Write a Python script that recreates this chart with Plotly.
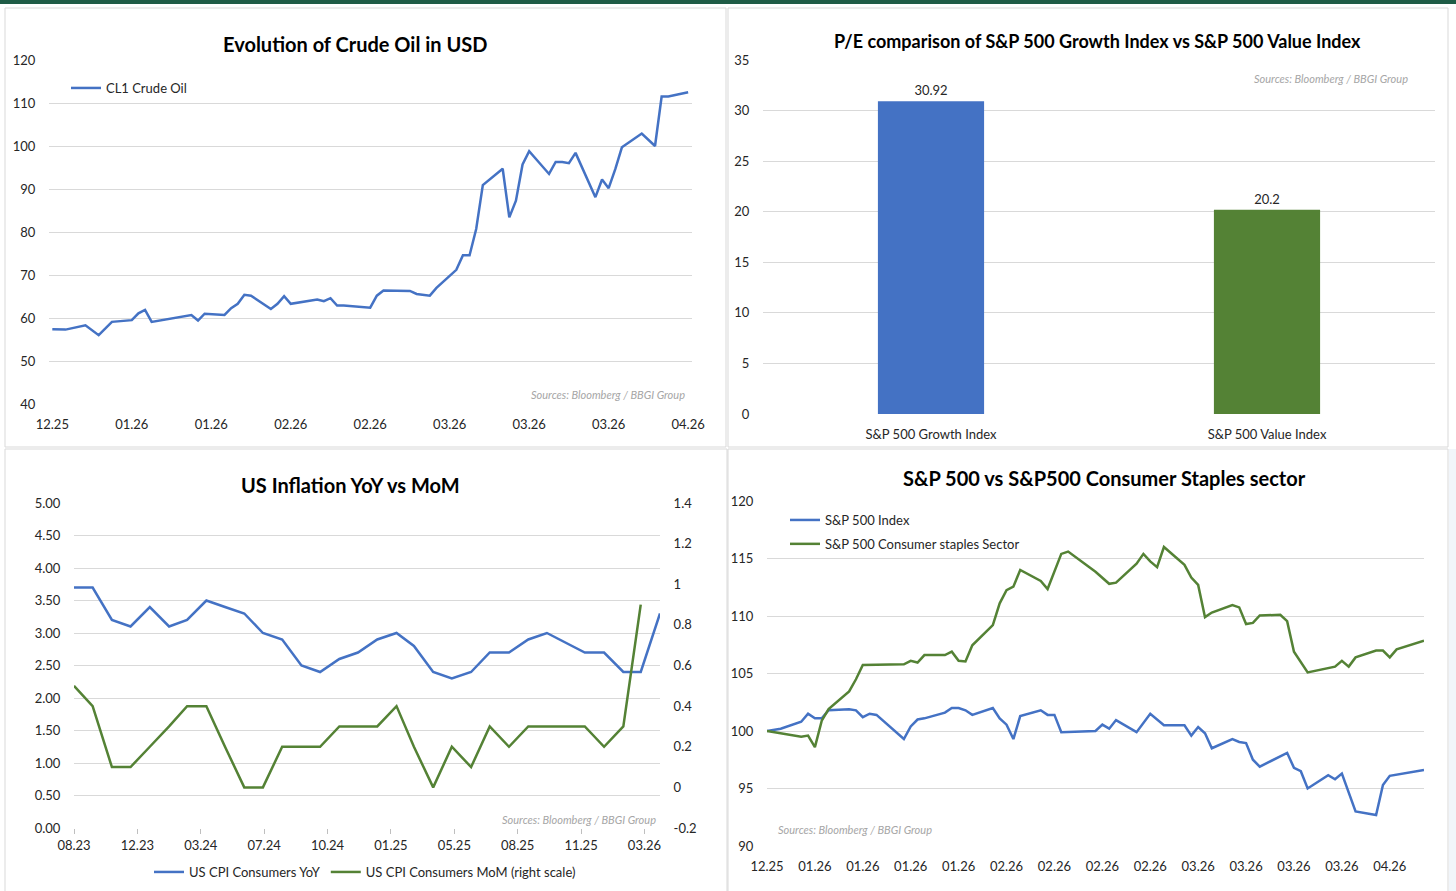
import plotly.graph_objects as go

W, H = 1456, 891

# ---------------- data ----------------
oil_dates = ["2025-12-31", "2026-01-02", "2026-01-05", "2026-01-07", "2026-01-09", "2026-01-12",
             "2026-01-13", "2026-01-14", "2026-01-15", "2026-01-21", "2026-01-22", "2026-01-23",
             "2026-01-26", "2026-01-27", "2026-01-28", "2026-01-29", "2026-01-30", "2026-02-02",
             "2026-02-03", "2026-02-04", "2026-02-05", "2026-02-09", "2026-02-10", "2026-02-11",
             "2026-02-12", "2026-02-13", "2026-02-17", "2026-02-18", "2026-02-19", "2026-02-23",
             "2026-02-24", "2026-02-26", "2026-02-27", "2026-03-02", "2026-03-03", "2026-03-04",
             "2026-03-05", "2026-03-06", "2026-03-09", "2026-03-10", "2026-03-11", "2026-03-12",
             "2026-03-13", "2026-03-16", "2026-03-17", "2026-03-18", "2026-03-19", "2026-03-20",
             "2026-03-23", "2026-03-24", "2026-03-25", "2026-03-26", "2026-03-27", "2026-03-30",
             "2026-04-01", "2026-04-02", "2026-04-03", "2026-04-06"]
oil_values = [57.4, 57.3, 58.3, 56.0, 59.1, 59.5, 61.1, 61.9, 59.1, 60.7, 59.4, 61.0,
              60.7, 62.3, 63.3, 65.4, 65.2, 62.1, 63.3, 65.1, 63.3, 64.3, 63.9, 64.6,
              62.9, 62.9, 62.4, 65.2, 66.4, 66.3, 65.6, 65.2, 67.0, 71.2, 74.6, 74.6,
              80.7, 90.9, 94.7, 83.4, 87.3, 95.7, 98.8, 93.5, 96.3, 96.3, 96.0, 98.4,
              88.1, 92.2, 90.2, 94.6, 99.7, 102.9, 100.0, 111.5, 111.5, 112.5]

pe_categories = ["S&P 500 Growth Index", "S&P 500 Value Index"]
pe_values = [30.92, 20.2]

cpi_dates = ["2023-08-31", "2023-09-30", "2023-10-31", "2023-11-30", "2023-12-31",
             "2024-01-31", "2024-02-29", "2024-03-31", "2024-04-30", "2024-05-31", "2024-06-30",
             "2024-07-31", "2024-08-31", "2024-09-30", "2024-10-31", "2024-11-30", "2024-12-31",
             "2025-01-31", "2025-02-28", "2025-03-31", "2025-04-30", "2025-05-31", "2025-06-30",
             "2025-07-31", "2025-08-31", "2025-09-30", "2025-11-30", "2025-12-31",
             "2026-01-31", "2026-02-28", "2026-03-31"]
cpi_yoy = [3.7, 3.7, 3.2, 3.1, 3.4, 3.1, 3.2, 3.5, 3.4, 3.3, 3.0, 2.9, 2.5, 2.4, 2.6, 2.7,
           2.9, 3.0, 2.8, 2.4, 2.3, 2.4, 2.7, 2.7, 2.9, 3.0, 2.7, 2.7, 2.4, 2.4, 3.3]
cpi_mom_dates = cpi_dates[:-1]
cpi_mom = [0.5, 0.4, 0.1, 0.1, 0.2, 0.3, 0.4, 0.4, 0.2, 0.0, 0.0, 0.2, 0.2, 0.2, 0.3, 0.3,
           0.3, 0.4, 0.2, 0.0, 0.2, 0.1, 0.3, 0.2, 0.3, 0.3, 0.3, 0.2, 0.3, 0.9]

spx_dates = ["2025-12-31", "2026-01-02", "2026-01-05", "2026-01-06", "2026-01-07", "2026-01-08",
             "2026-01-09", "2026-01-12", "2026-01-13", "2026-01-14", "2026-01-15", "2026-01-16",
             "2026-01-20", "2026-01-21", "2026-01-22", "2026-01-23", "2026-01-26", "2026-01-27",
             "2026-01-28", "2026-01-29", "2026-01-30", "2026-02-02", "2026-02-03", "2026-02-04",
             "2026-02-05", "2026-02-06", "2026-02-09", "2026-02-10", "2026-02-11", "2026-02-12",
             "2026-02-17", "2026-02-18", "2026-02-19", "2026-02-20", "2026-02-23", "2026-02-25",
             "2026-02-27", "2026-03-02", "2026-03-03", "2026-03-04", "2026-03-05", "2026-03-06",
             "2026-03-09", "2026-03-10", "2026-03-11", "2026-03-12", "2026-03-13", "2026-03-17",
             "2026-03-18", "2026-03-19", "2026-03-20", "2026-03-23", "2026-03-24", "2026-03-25",
             "2026-03-27", "2026-03-30", "2026-03-31", "2026-04-01", "2026-04-06"]
spx_values = [100.0, 100.2, 100.8, 101.5, 101.1, 101.1, 101.8, 101.9, 101.8, 101.2, 101.5, 101.4,
              99.3, 100.4, 101.0, 101.1, 101.6, 102.0, 102.0, 101.8, 101.4, 102.0, 101.1, 100.55,
              99.3, 101.3, 101.8, 101.4, 101.4, 99.9, 100.0, 100.55, 100.2, 100.95, 99.9, 101.5,
              100.5, 100.5, 99.6, 100.35, 99.8, 98.5, 99.3, 99.05, 98.95, 97.5, 96.9, 98.1,
              96.8, 96.5, 95.0, 96.15, 95.8, 96.3, 93.0, 92.7, 95.3, 96.1, 96.6]

stap_dates = ["2025-12-31", "2026-01-05", "2026-01-06", "2026-01-07", "2026-01-08", "2026-01-09",
              "2026-01-12", "2026-01-13", "2026-01-14", "2026-01-15", "2026-01-20", "2026-01-21",
              "2026-01-22", "2026-01-23", "2026-01-26", "2026-01-27", "2026-01-28", "2026-01-29",
              "2026-01-30", "2026-02-02", "2026-02-03", "2026-02-04", "2026-02-05", "2026-02-06",
              "2026-02-09", "2026-02-10", "2026-02-12", "2026-02-13", "2026-02-17", "2026-02-19",
              "2026-02-20", "2026-02-23", "2026-02-24", "2026-02-25", "2026-02-26", "2026-02-27",
              "2026-03-02", "2026-03-03", "2026-03-04", "2026-03-05", "2026-03-06", "2026-03-09",
              "2026-03-10", "2026-03-11", "2026-03-12", "2026-03-13", "2026-03-16", "2026-03-17",
              "2026-03-18", "2026-03-20", "2026-03-24", "2026-03-25", "2026-03-26", "2026-03-27",
              "2026-03-30", "2026-03-31", "2026-04-01", "2026-04-02", "2026-04-06"]
stap_values = [100.0, 99.5, 99.6, 98.6, 100.9, 101.9, 103.45, 104.5, 105.75, 105.75, 105.8, 106.1,
               105.95, 106.6, 106.6, 106.9, 106.1, 106.05, 107.45, 109.2, 111.1, 112.25, 112.55, 114.0,
               113.05, 112.35, 115.4, 115.6, 113.85, 112.8, 112.9, 114.55, 115.4, 114.75, 114.25, 116.0,
               114.45, 113.35, 112.7, 109.9, 110.3, 110.95, 110.75, 109.3, 109.4, 110.05, 110.1, 109.55,
               106.9, 105.1, 105.6, 106.1, 105.6, 106.4, 107.0, 107.0, 106.4, 107.1, 107.85]

# ---------------- style ----------------
BLUE = "#4472C4"
GREEN = "#548235"
GRID = "#D9D9D9"
TXT = "#262626"
FONT = "Lato, 'Open Sans', sans-serif"
SRC = "Sources: Bloomberg / BBGI Group"
DAY = 86400000


def fx(px):
    return px / W


def fy(py):
    return 1 - py / H


fig = go.Figure()

# Panel 1: crude oil
fig.add_trace(go.Scatter(x=oil_dates, y=oil_values, mode="lines", name="CL1 Crude Oil",
                         line=dict(color=BLUE, width=2.5), xaxis="x", yaxis="y", legend="legend"))
# Panel 2: bars
fig.add_trace(go.Bar(x=pe_categories, y=pe_values, marker=dict(color=[BLUE, GREEN]), width=0.316,
                     text=[str(v) for v in pe_values], textposition="outside", cliponaxis=False,
                     textfont=dict(size=13, color=TXT), showlegend=False, xaxis="x2", yaxis="y2"))
# Panel 3: inflation
fig.add_trace(go.Scatter(x=cpi_dates, y=cpi_yoy, mode="lines", name="US CPI Consumers YoY",
                         line=dict(color=BLUE, width=2.5), xaxis="x3", yaxis="y3", legend="legend2"))
fig.add_trace(go.Scatter(x=cpi_mom_dates, y=cpi_mom, mode="lines", name="US CPI Consumers MoM (right scale)",
                         line=dict(color=GREEN, width=2.5), xaxis="x3", yaxis="y4", legend="legend2"))
# Panel 4: S&P
fig.add_trace(go.Scatter(x=spx_dates, y=spx_values, mode="lines", name="S&P 500 Index",
                         line=dict(color=BLUE, width=2.5), xaxis="x4", yaxis="y5", legend="legend3",
                         legendgroup="spx"))
fig.add_trace(go.Scatter(x=stap_dates, y=stap_values, mode="lines", name="S&P 500 Consumer staples Sector",
                         line=dict(color=GREEN, width=2.5), xaxis="x4", yaxis="y5", legend="legend3",
                         legendgroup="staples"))

tickfont = dict(family=FONT, size=13, color=TXT)
common_y = dict(showgrid=True, gridcolor=GRID, gridwidth=1, zeroline=False, showline=False,
                ticks="outside", ticklen=10, tickcolor="rgba(0,0,0,0)", tickfont=tickfont,
                automargin=False)
common_x = dict(showgrid=False, zeroline=False, showline=False, ticks="outside", ticklen=8,
                tickcolor="rgba(0,0,0,0)", tickfont=tickfont, automargin=False)
legfont = dict(family=FONT, size=13, color=TXT)

fig.update_layout(
    template="none",
    width=W, height=H, margin=dict(l=0, r=0, t=0, b=0, autoexpand=False),
    paper_bgcolor="white", plot_bgcolor="rgba(0,0,0,0)",
    font=dict(family=FONT, color=TXT),
    xaxis=dict(domain=[fx(49), fx(692)], anchor="y", type="date",
               range=["2025-12-30 12:00", "2026-04-06 14:00"],
               tick0="2025-12-31", dtick=12 * DAY, tickformat="%m.%y", **common_x),
    yaxis=dict(domain=[fy(404), fy(60)], anchor="x", range=[40, 120], dtick=10, **common_y),
    xaxis2=dict(domain=[fx(763), fx(1435)], anchor="y2", type="category", **common_x),
    yaxis2=dict(domain=[fy(414), fy(60)], anchor="x2", range=[0, 35], dtick=5, **common_y),
    xaxis3=dict(domain=[fx(74), fx(660)], anchor="y3", type="date",
                range=["2023-08-31", "2026-03-31"], tick0="2023-08-31", dtick=102 * DAY,
                tickformat="%m.%y", showgrid=False, zeroline=False, showline=False,
                ticks="outside", ticklen=5, tickcolor="#BFBFBF", tickfont=tickfont,
                automargin=False),
    yaxis3=dict(domain=[fy(828), fy(503)], anchor="x3", range=[0, 5], dtick=0.5,
                tickformat=".2f", **common_y),
    yaxis4=dict(domain=[fy(828), fy(503)], anchor="x3", overlaying="y3", side="right",
                range=[-0.2, 1.4], tickvals=[-0.2, 0, 0.2, 0.4, 0.6, 0.8, 1, 1.2, 1.4],
                ticktext=["-0.2", "0", "0.2", "0.4", "0.6", "0.8", "1", "1.2", "1.4"],
                showgrid=False, zeroline=False, showline=False, ticks="outside", ticklen=10,
                tickcolor="rgba(0,0,0,0)", tickfont=tickfont, automargin=False),
    xaxis4=dict(domain=[fx(767), fx(1424)], anchor="y5", type="date",
                range=["2025-12-31", "2026-04-06"], tick0="2025-12-31", dtick=7 * DAY,
                tickformat="%m.%y", **common_x),
    yaxis5=dict(domain=[fy(846), fy(501)], anchor="x4", range=[90, 120], dtick=5, **common_y),
    legend=dict(x=fx(66), y=fy(73), xanchor="left", yanchor="top", bgcolor="rgba(0,0,0,0)",
                font=legfont, itemwidth=30, tracegroupgap=0),
    legend2=dict(x=fx(365), y=fy(872), xanchor="center", yanchor="middle", orientation="h",
                 bgcolor="rgba(0,0,0,0)", font=legfont, itemwidth=30),
    legend3=dict(x=fx(785), y=fy(505), xanchor="left", yanchor="top", bgcolor="rgba(0,0,0,0)",
                 font=legfont, itemwidth=30, traceorder="grouped", tracegroupgap=4),
    bargap=0.5,
)

# panel frames and the top strip
shapes = [
    dict(type="rect", xref="paper", yref="paper", x0=0, x1=1, y0=fy(4), y1=1,
         fillcolor="#1F5C46", line=dict(width=0), layer="below"),
    dict(type="rect", xref="paper", yref="paper", x0=fx(1449), x1=1, y0=0, y1=fy(449),
         fillcolor="#F1F5FA", line=dict(width=0), layer="below"),
]
for (x0, y0, x1, y1) in [(5, 8, 726, 447), (728, 8, 1448, 447), (5, 449, 727, 892), (728, 449, 1448, 892)]:
    shapes.append(dict(type="rect", xref="paper", yref="paper", x0=fx(x0), x1=fx(x1),
                       y0=fy(y1), y1=fy(y0), fillcolor="white", line=dict(color="#D9D9D9", width=1),
                       layer="below"))
fig.update_layout(shapes=shapes)

titles = [
    ("Evolution of Crude Oil in USD", 355, 44, 20),
    ("P/E comparison of S&P 500 Growth Index vs S&P 500 Value Index", 1097, 41, 18),
    ("US Inflation YoY vs MoM", 350, 485, 20),
    ("S&P 500 vs S&P500 Consumer Staples sector", 1104, 478, 20),
]
ann = []
for t, x, y, s in titles:
    ann.append(dict(text="<b>%s</b>" % t, x=fx(x), y=fy(y), xref="paper", yref="paper",
                    xanchor="center", yanchor="middle", showarrow=False,
                    font=dict(family=FONT, size=s, color="#000000")))
for x, y, anchor in [(687, 394, "right"), (1410, 78, "right"), (658, 819, "right"), (776, 829, "left")]:
    ann.append(dict(text="<i>%s</i>" % SRC, x=fx(x), y=fy(y), xref="paper", yref="paper",
                    xanchor=anchor, yanchor="middle", showarrow=False,
                    font=dict(family=FONT, size=11, color="#A6A6A6")))
fig.update_layout(annotations=ann)

fig.write_html("out.html", config={"displayModeBar": False},
               post_script="document.body.style.margin='0';document.body.style.overflow='hidden';")
